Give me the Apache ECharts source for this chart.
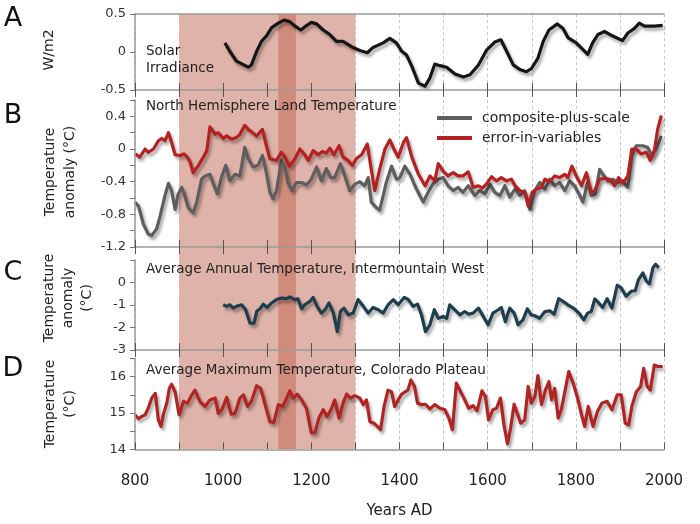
<!DOCTYPE html>
<html>
<head>
<meta charset="utf-8">
<script src="https://cdn.jsdelivr.net/npm/echarts@6/dist/echarts.min.js"></script>
<style>
html,body{margin:0;padding:0;background:#fff;}
#chart{width:700px;height:524px;}
</style>
</head>
<body>
<div id="chart"></div>
<script>
// ---------- DATA ----------
const xTickYears = [800, 1000, 1200, 1400, 1600, 1800, 2000];
const shadeRange = [900, 1300];
const darkBand = [1125, 1165];

const solarYears = [1004,1015,1030,1057,1064,1076,1087,1098,1110,1125,
  1138,1151,1163,1176,1185,1200,1212,1227,1242,1257,
  1272,1291,1310,1327,1340,1363,1378,1393,1405,1416,
  1428,1443,1458,1469,1480,1492,1507,1526,1545,1560,
  1579,1597,1616,1630,1643,1658,1673,1688,1699,1714,
  1726,1739,1758,1771,1782,1801,1827,1838,1850,1865,
  1884,1906,1918,1933,1944,1956,1978,1997];
const solarValues = [0.12,0.01,-0.12,-0.20,-0.17,0.01,0.14,0.21,0.32,0.38,
  0.42,0.40,0.34,0.29,0.33,0.39,0.37,0.29,0.23,0.14,
  0.14,0.07,0.02,-0.01,0.06,0.12,0.18,0.12,0.01,-0.04,
  -0.19,-0.41,-0.45,-0.34,-0.16,-0.18,-0.20,-0.29,-0.33,-0.30,
  -0.17,0.02,0.13,0.16,0.01,-0.17,-0.23,-0.26,-0.22,-0.08,
  0.14,0.29,0.37,0.31,0.19,0.12,-0.03,0.12,0.23,0.27,
  0.21,0.15,0.25,0.31,0.38,0.34,0.34,0.35];

const cpsYears = [800,808,819,830,838,849,857,868,876,883,
  891,898,906,913,921,932,940,951,959,970,
  978,987,997,1006,1015,1027,1038,1049,1057,1068,
  1079,1089,1098,1106,1113,1121,1132,1140,1147,1156,
  1166,1178,1189,1200,1212,1223,1234,1244,1253,1266,
  1276,1287,1299,1310,1321,1329,1336,1348,1355,1363,
  1370,1382,1393,1401,1412,1424,1435,1446,1454,1465,
  1477,1488,1499,1510,1522,1533,1544,1556,1571,1582,
  1594,1605,1616,1628,1639,1650,1662,1673,1684,1696,
  1707,1718,1730,1741,1752,1763,1775,1786,1797,1809,
  1816,1827,1835,1844,1854,1864,1874,1884,1895,1907,
  1918,1927,1937,1952,1963,1972,1982,1994];
const cpsValues = [-0.65,-0.70,-0.92,-1.04,-1.06,-0.98,-0.82,-0.57,-0.42,-0.51,
  -0.74,-0.55,-0.47,-0.57,-0.72,-0.78,-0.65,-0.37,-0.33,-0.31,
  -0.43,-0.55,-0.33,-0.20,-0.39,-0.31,-0.33,0.02,-0.12,-0.22,
  -0.20,-0.08,-0.29,-0.53,-0.61,-0.51,-0.14,-0.22,-0.41,-0.51,
  -0.41,-0.41,-0.44,-0.37,-0.22,-0.39,-0.24,-0.35,-0.35,-0.18,
  -0.33,-0.51,-0.43,-0.40,-0.45,-0.35,-0.65,-0.72,-0.75,-0.57,
  -0.41,-0.21,-0.37,-0.35,-0.21,-0.31,-0.45,-0.57,-0.65,-0.53,
  -0.42,-0.37,-0.35,-0.45,-0.51,-0.47,-0.53,-0.45,-0.57,-0.51,
  -0.55,-0.43,-0.53,-0.57,-0.45,-0.59,-0.49,-0.57,-0.51,-0.74,
  -0.51,-0.41,-0.49,-0.37,-0.45,-0.41,-0.51,-0.39,-0.45,-0.57,
  -0.65,-0.41,-0.57,-0.55,-0.25,-0.33,-0.39,-0.37,-0.41,-0.39,
  -0.47,-0.08,0.04,0.04,0.02,-0.08,0.00,0.16];

const eivYears = [800,811,823,830,842,853,861,868,876,883,
  891,902,911,919,925,932,944,955,963,970,
  982,989,1000,1008,1019,1030,1038,1049,1057,1064,
  1076,1089,1098,1106,1121,1132,1140,1150,1163,1174,
  1185,1193,1204,1216,1225,1234,1242,1251,1263,1272,
  1283,1293,1302,1314,1327,1336,1344,1355,1367,1378,
  1389,1397,1409,1416,1428,1443,1458,1469,1480,1488,
  1499,1510,1522,1533,1544,1556,1567,1579,1588,1597,
  1609,1620,1631,1643,1654,1662,1673,1684,1692,1701,
  1711,1722,1730,1741,1752,1763,1775,1782,1791,1801,
  1813,1824,1835,1843,1854,1865,1877,1888,1897,1907,
  1918,1927,1937,1948,1960,1969,1978,1986,1994];
const eivValues = [-0.06,-0.10,0.00,-0.04,0.00,0.10,0.13,0.10,0.20,0.08,
  -0.07,-0.08,-0.06,-0.10,-0.16,-0.29,-0.20,-0.10,-0.02,0.27,
  0.18,0.20,0.13,0.16,0.12,0.14,0.18,0.29,0.24,0.21,
  0.16,0.24,0.04,-0.12,-0.14,-0.04,-0.10,-0.21,-0.12,0.00,
  -0.07,-0.14,-0.02,-0.07,-0.03,-0.05,0.01,-0.07,0.04,-0.10,
  -0.14,-0.20,-0.12,-0.07,0.06,-0.25,-0.51,-0.25,0.00,0.11,
  -0.02,-0.10,0.08,0.14,-0.10,-0.31,-0.45,-0.33,-0.39,-0.18,
  -0.27,-0.33,-0.29,-0.33,-0.33,-0.28,-0.47,-0.45,-0.48,-0.43,
  -0.34,-0.39,-0.35,-0.39,-0.37,-0.45,-0.51,-0.53,-0.70,-0.53,
  -0.49,-0.47,-0.37,-0.40,-0.33,-0.35,-0.31,-0.35,-0.21,-0.33,
  -0.45,-0.29,-0.53,-0.51,-0.37,-0.36,-0.37,-0.45,-0.35,-0.42,
  -0.33,0.00,0.00,-0.06,-0.04,-0.14,-0.02,0.25,0.41];

const imwYears = [1000,1008,1015,1023,1030,1042,1051,1061,1070,1076,
  1085,1091,1100,1110,1121,1132,1144,1151,1163,1170,
  1178,1185,1197,1204,1213,1223,1231,1240,1250,1259,
  1266,1274,1284,1295,1306,1318,1329,1340,1352,1363,
  1374,1386,1397,1411,1420,1431,1441,1450,1459,1469,
  1479,1488,1499,1507,1514,1525,1537,1548,1557,1567,
  1579,1588,1601,1612,1624,1631,1640,1650,1660,1669,
  1680,1690,1699,1707,1718,1730,1741,1751,1761,1771,
  1782,1797,1809,1818,1827,1835,1843,1852,1861,1871,
  1882,1894,1903,1914,1926,1935,1942,1952,1960,1967,
  1975,1981,1988];
const imwValues = [-0.99,-1.06,-0.99,-1.14,-1.06,-0.99,-1.21,-1.81,-1.81,-1.29,
  -1.14,-0.96,-1.11,-0.91,-0.76,-0.69,-0.72,-0.64,-0.76,-0.73,
  -1.17,-0.99,-0.84,-0.66,-1.06,-1.36,-1.21,-0.91,-1.36,-2.18,
  -1.29,-1.14,-1.44,-1.36,-0.76,-1.06,-1.36,-1.11,-1.21,-1.36,
  -0.99,-0.76,-0.99,-0.66,-0.76,-1.06,-0.96,-1.44,-2.18,-1.88,
  -1.21,-1.59,-1.51,-1.59,-0.99,-1.21,-1.44,-1.29,-1.41,-1.36,
  -1.14,-1.44,-1.88,-1.36,-1.21,-1.11,-1.74,-1.14,-1.36,-1.88,
  -1.66,-1.17,-1.44,-1.48,-1.59,-1.29,-1.26,-1.41,-0.72,-0.84,
  -0.99,-1.17,-1.41,-1.66,-1.36,-1.29,-0.73,-0.91,-1.11,-0.72,
  -1.14,-0.12,-0.24,-0.61,-0.39,-0.36,0.12,0.43,0.06,-0.06,
  0.66,0.81,0.66];

const cpYears = [800,808,815,823,830,838,846,853,859,865,
  872,878,883,891,900,910,919,929,936,947,
  959,970,982,989,997,1008,1018,1027,1038,1046,
  1055,1064,1076,1085,1095,1106,1115,1125,1135,1144,
  1151,1159,1168,1178,1189,1200,1208,1217,1227,1236,
  1246,1253,1263,1272,1280,1289,1299,1310,1318,1325,
  1333,1342,1350,1357,1365,1374,1382,1389,1397,1405,
  1419,1426,1434,1441,1450,1459,1469,1480,1492,1503,
  1512,1520,1529,1539,1548,1557,1567,1576,1587,1595,
  1602,1612,1620,1629,1637,1645,1652,1660,1667,1675,
  1684,1692,1699,1707,1714,1722,1731,1739,1745,1752,
  1760,1767,1775,1784,1794,1804,1813,1820,1828,1839,
  1849,1859,1871,1882,1894,1903,1912,1920,1927,1937,
  1947,1954,1962,1969,1978,1986,1997];
const cpValues = [14.95,14.84,14.90,14.95,15.13,15.41,15.54,14.81,14.63,14.99,
  15.27,15.68,15.79,15.58,14.95,15.32,15.27,15.50,15.63,15.32,
  15.18,15.36,15.41,14.99,15.09,15.43,14.97,14.99,15.41,15.50,
  15.18,15.32,15.75,15.68,15.24,14.76,14.74,15.23,15.18,15.41,
  15.61,15.41,15.52,15.36,15.13,14.45,14.45,14.86,15.09,14.90,
  15.13,15.36,14.86,15.27,15.52,15.41,15.48,15.41,15.23,15.36,
  14.76,14.72,14.63,14.54,15.18,15.63,15.58,15.18,15.36,15.52,
  15.63,15.91,15.73,15.27,15.23,15.24,15.11,15.23,15.13,15.09,
  14.86,14.54,15.82,15.58,15.36,15.13,15.20,15.06,15.61,15.45,
  14.81,15.09,15.13,15.41,14.67,14.15,14.58,15.24,14.99,14.72,
  14.81,15.73,15.27,15.45,16.03,15.23,15.63,15.86,15.36,15.68,
  14.86,15.09,15.58,16.14,15.82,15.41,14.95,14.63,15.18,14.63,
  15.04,15.27,15.32,15.09,15.50,15.50,14.72,14.67,15.18,15.58,
  15.73,16.23,15.73,15.63,16.32,16.28,16.28];

// ---------- CHART ----------
const FONT = 'DejaVu Sans';
const zip = (xs, ys) => xs.map((x, i) => [x, ys[i]]);

const grids = [
  {left: 135, right: 36, top: 14, height: 76},
  {left: 135, right: 36, top: 100, height: 147},
  {left: 135, right: 36, top: 260, height: 90},
  {left: 135, right: 36, top: 358.5, height: 90.8},
  {left: 135, right: 36, top: 14, height: 435.3} // shading layer
];

const axisGray = '#9a9a9a';
const xAxes = [];
const mainX = [];
for (let p = 0; p < 4; p++) {
  xAxes.push({
    gridIndex: p, type: 'value', min: 800, max: 2000, interval: 100, position: 'bottom', z: 0,
    axisLine: {show: false}, axisTick: {show: false}, axisLabel: {show: false},
    splitLine: {show: true, lineStyle: {color: '#c4c4c4', type: [3, 3], width: 1}}
  });
  mainX.push(xAxes.length);
  xAxes.push({
    gridIndex: p, type: 'value', min: 800, max: 2000, interval: 100, position: 'bottom', z: 5,
    axisLine: {show: true, lineStyle: {color: axisGray, width: 1.5}},
    axisTick: {show: true, inside: true, length: 7, lineStyle: {color: '#555', width: 1}},
    axisLabel: {
      show: p === 3, margin: 24, fontFamily: FONT, fontSize: 15, color: '#222',
      formatter: v => xTickYears.indexOf(Math.round(v)) >= 0 ? String(Math.round(v)) : ''
    },
    splitLine: {show: false},
    name: p === 3 ? 'Years AD' : '',
    nameLocation: 'middle', nameGap: 54,
    nameTextStyle: {fontFamily: FONT, fontSize: 15, color: '#222'}
  });
  if (p < 3) {
    xAxes.push({
      gridIndex: p, type: 'value', min: 800, max: 2000, interval: 100, position: 'bottom', z: 5,
      axisLine: {show: false},
      axisTick: {show: true, inside: false, length: 7, lineStyle: {color: '#555', width: 1}},
      axisLabel: {show: false}, splitLine: {show: false}
    });
  }
}
xAxes.push({
  gridIndex: 0, type: 'value', min: 800, max: 2000, position: 'top', z: 5,
  axisLine: {show: true, lineStyle: {color: axisGray, width: 1.5}},
  axisTick: {show: false}, axisLabel: {show: false}, splitLine: {show: false}
});
const shadeX = xAxes.length;
xAxes.push({gridIndex: 4, type: 'value', min: 800, max: 2000, show: false});

const yLabel = {fontFamily: FONT, fontSize: 13, color: '#333', margin: 9};
const yBase = {
  type: 'value',
  axisLine: {show: true, lineStyle: {color: axisGray, width: 1.5}},
  axisTick: {show: true, length: 5, lineStyle: {color: '#777'}},
  splitLine: {show: false}, z: 5
};
const yAxes = [
  Object.assign({}, yBase, {gridIndex: 0, min: -0.5, max: 0.5, interval: 0.5,
    axisLabel: Object.assign({}, yLabel, {formatter: v => String(Math.round(v * 10) / 10)})}),
  Object.assign({}, yBase, {gridIndex: 1, min: -1.2, max: 0.6, interval: 0.2,
    axisLabel: Object.assign({}, yLabel, {formatter: v => {
      const t = Math.round(v * 10);
      if (t % 4 !== 0 || t > 4) return '';
      return t === 0 ? '0' : (t / 10).toFixed(1);
    }})}),
  Object.assign({}, yBase, {gridIndex: 2, min: -3, max: 1, interval: 1,
    axisLabel: Object.assign({}, yLabel, {formatter: v => Math.round(v) >= 1 ? '' : String(Math.round(v))})}),
  Object.assign({}, yBase, {gridIndex: 3, min: 14, max: 16.5, interval: 0.5,
    axisLabel: Object.assign({}, yLabel, {formatter: v => Math.abs(v - Math.round(v)) < 1e-6 ? String(Math.round(v)) : ''})}),
  {gridIndex: 4, type: 'value', min: 0, max: 1, show: false}
];

const shadow = {shadowColor: 'rgba(0,0,0,0.35)', shadowBlur: 3, shadowOffsetX: 2, shadowOffsetY: 3};
function lineSeries(name, p, data, color) {
  return {
    name: name, type: 'line', xAxisIndex: mainX[p], yAxisIndex: p, data: data,
    showSymbol: false, symbol: 'none', z: 3, silent: true, animation: false,
    lineStyle: Object.assign({color: color, width: 3.2, join: 'round'}, shadow),
    itemStyle: {color: color}
  };
}

const series = [
  {
    type: 'line', xAxisIndex: shadeX, yAxisIndex: 4, data: [], z: 1, silent: true, animation: false,
    markArea: {
      silent: true, animation: false,
      data: [
        [{xAxis: shadeRange[0], itemStyle: {color: '#dfb3a9'}}, {xAxis: shadeRange[1]}],
        [{xAxis: darkBand[0], itemStyle: {color: '#d08b7b'}}, {xAxis: darkBand[1]}]
      ]
    }
  },
  lineSeries('Solar Irradiance', 0, zip(solarYears, solarValues), '#151515'),
  lineSeries('composite-plus-scale', 1, zip(cpsYears, cpsValues), '#5e5e5e'),
  lineSeries('error-in-variables', 1, zip(eivYears, eivValues), '#b52020'),
  lineSeries('Intermountain West', 2, zip(imwYears, imwValues), '#1e3e4d'),
  lineSeries('Colorado Plateau', 3, zip(cpYears, cpValues), '#b02424')
];

function txt(x, y, text, size, opts) {
  return {
    type: 'text', x: x, y: y, z: 100, zlevel: 0,
    style: Object.assign({text: text, fontFamily: FONT, fontSize: size, fill: '#222',
      textAlign: 'left', textVerticalAlign: 'middle'}, opts || {})
  };
}
function vtxt(x, y, text, size) {
  return {type: 'text', x: x, y: y, z: 100, rotation: Math.PI / 2,
    style: {text: text, fontFamily: FONT, fontSize: size, fill: '#222', textAlign: 'center', textVerticalAlign: 'middle'}};
}

const graphics = [
  txt(13, 19, 'A', 27, {textAlign: 'center', fill: '#111'}),
  txt(13, 116, 'B', 27, {textAlign: 'center', fill: '#111'}),
  txt(13, 273, 'C', 27, {textAlign: 'center', fill: '#111'}),
  txt(13, 369, 'D', 27, {textAlign: 'center', fill: '#111'}),
  vtxt(49, 50, 'W/m2', 14),
  vtxt(50, 172, 'Temperature', 14),
  vtxt(70, 172, 'anomaly (°C)', 14),
  vtxt(49, 298, 'Temperature', 14),
  vtxt(68, 298, 'anomaly', 14),
  vtxt(87, 298, '(°C)', 14),
  vtxt(50, 404, 'Temperature', 14),
  vtxt(70, 404, '(°C)', 14),
  txt(146, 51, 'Solar', 13.5),
  txt(146, 68, 'Irradiance', 13.5),
  txt(146, 106, 'North Hemisphere Land Temperature', 13.5),
  txt(146, 269, 'Average Annual Temperature, Intermountain West', 13.5),
  txt(146, 370, 'Average Maximum Temperature, Colorado Plateau', 13.5)
];

const chart = echarts.init(document.getElementById('chart'), null, {renderer: 'canvas'});
chart.setOption({
  animation: false,
  backgroundColor: '#ffffff',
  textStyle: {fontFamily: FONT},
  grid: grids,
  xAxis: xAxes,
  yAxis: yAxes,
  legend: {
    data: ['composite-plus-scale', 'error-in-variables'],
    orient: 'vertical', left: 432, top: 106, itemGap: 6,
    icon: 'rect', itemWidth: 35, itemHeight: 4, selectedMode: false,
    textStyle: {fontFamily: FONT, fontSize: 14, color: '#222', padding: [0, 0, 0, 5]}
  },
  series: series,
  graphic: {elements: graphics}
});
</script>
</body>
</html>
